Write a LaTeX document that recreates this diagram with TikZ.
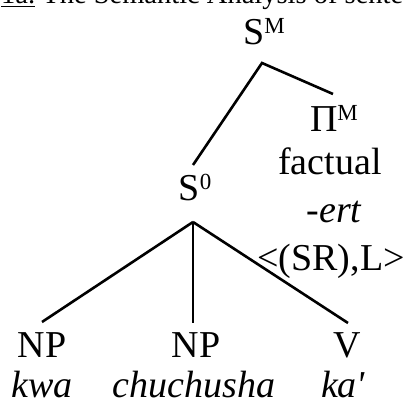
\documentclass[tikz,border=0pt]{standalone}
\usepackage{fontspec}
\setmainfont{Liberation Serif}
\newcommand{\supM}[1]{{\fontsize{23}{23}\selectfont\raisebox{11.5pt}{#1}}}
\tikzset{
  lab/.style={anchor=base, inner sep=0pt, font=\fontsize{38}{40}\selectfont},
  word/.style={anchor=base, inner sep=0pt, text depth=0pt, font=\fontsize{38}{40}\selectfont\itshape},
  branch/.style={line width=2.6pt, line cap=butt},
}
\begin{document}
\begin{tikzpicture}[x=1pt,y=-1pt]
\useasboundingbox (0,0) rectangle (408,406);
\clip (0,0) rectangle (408,406);
% title (cut by the top edge, as in the reference)
\node[anchor=base west, inner sep=0pt, font=\fontsize{28.5}{30}\selectfont] (title) at (1,4) {\underline{1a.} The Semantic Analysis of sente};
% labels
\node[lab] (SM) at (264,45) {S\supM{M}};
\node[lab] (PiM) at (334,132) {Π\supM{M}};
\node[lab] (fact) at (330,175) {factual};
\node[lab] (ert) at (334,223) {\itshape -ert};
\node[lab] (type) at (331,271) {<(SR),L>};
\node[lab] (S0) at (195,201) {S\supM{0}};
\node[lab] (NPa) at (42,358) {NP};
\node[lab] (NPb) at (196,358) {NP};
\node[lab] (V) at (347,358) {V};
\node[word] (kwa) at (42,398) {kwa};
\node[word] (chu) at (194,398) {chuchusha};
\node[word] (ka) at (343,398) {ka\textquotesingle};
% attachment points
\coordinate (SM-foot) at (262,63);
\coordinate (PiM-head) at (333,94);
\coordinate (S0-head) at (193,165);
\coordinate (S0-foot) at (193,222);
\coordinate (NPa-head) at (42,322);
\coordinate (NPb-head) at (193,323);
\coordinate (V-head) at (348,323);
% branches
\draw[branch] (S0-head) -- (SM-foot) -- (PiM-head);
\draw[branch] (S0-foot) -- (NPa-head);
\draw[branch] (S0-foot) -- (NPb-head);
\draw[branch] (S0-foot) -- (V-head);
\end{tikzpicture}
\end{document}
